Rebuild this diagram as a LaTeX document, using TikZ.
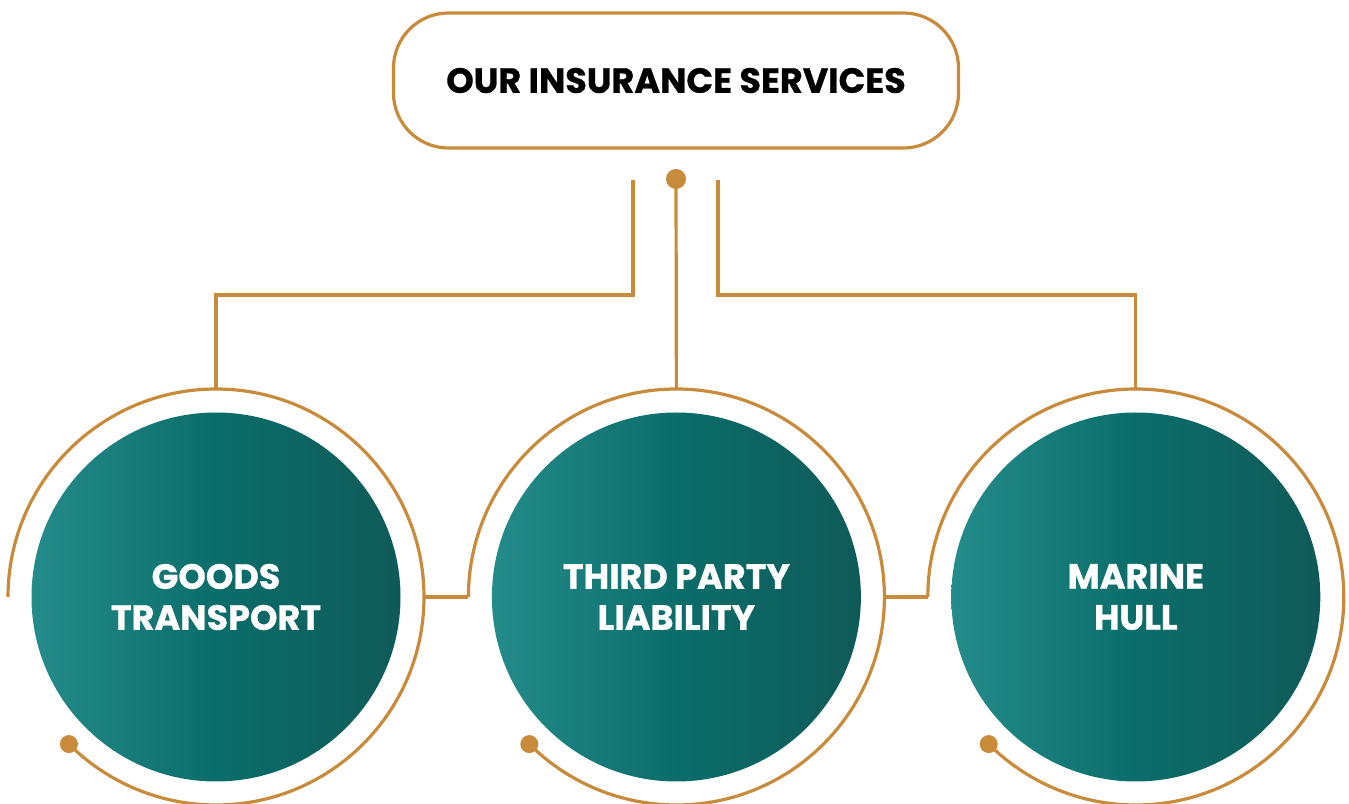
\documentclass[tikz,border=0pt]{standalone}
\usepackage{fontspec}
\setmainfont{Poppins}[BoldFeatures={FakeBold=0.8}]
\usetikzlibrary{positioning}
\usepackage{xcolor}
\definecolor{gold}{HTML}{C88B3C}
\definecolor{tealL}{HTML}{248C8B}
\definecolor{tealM}{HTML}{0B6D6A}
\definecolor{tealR}{HTML}{0F5A58}

\begin{document}
\begin{tikzpicture}[x=1pt, y=1pt,
		goldline/.style={gold, line width=3.2pt},
		service/.style={circle, minimum size=369pt, inner sep=0pt, left color=tealL, right color=tealR, middle color=tealM, text=white, align=center, font=\fontsize{35}{41}\selectfont\bfseries},
		ring/.style={circle, minimum size=416pt, inner sep=0pt, outer sep=0pt}]
		\useasboundingbox (0,0) rectangle (1349,803);

		% Title box
		\node[draw=gold, line width=3.2pt, rounded corners=55pt, minimum width=565pt, minimum height=135pt, font=\fontsize{35}{41}\selectfont\bfseries] (title) at (676,722.5) {OUR INSURANCE SERVICES};

		% Service circles
		\node[service] (goods) at (216,206) {GOODS\\TRANSPORT};
		\node[service, right=91pt of goods] (liability) {THIRD PARTY\\LIABILITY};
		\node[service, right=90pt of liability] (hull) {MARINE\\HULL};

		% Rings round the circles
		\foreach \s in {goods, liability, hull} {
			\node[ring] (\s ring) at (\s.center) {};
			\draw[goldline] (\s ring.west) arc[start angle=180, end angle=-135, radius=208pt];
			\fill[gold] (\s ring.south west) circle[radius=9pt];
		}

		% Branches from the title
		\coordinate (hub) at (676,624);
		\coordinate (leftstem) at (633,623);
		\coordinate (rightstem) at (718,623);
		\fill[gold] (hub) circle[radius=10pt];
		\draw[goldline] (hub) -- (liabilityring.north);
		\draw[goldline] (leftstem) -- ++(0,-115) -| (goodsring.north);
		\draw[goldline] (rightstem) -- ++(0,-115) -| (hullring.north);

		% Links between the rings
		\draw[goldline] (goodsring.east) -- (liabilityring.west);
		\draw[goldline] (liabilityring.east) -- (hullring.west);
	\end{tikzpicture}
\end{document}
